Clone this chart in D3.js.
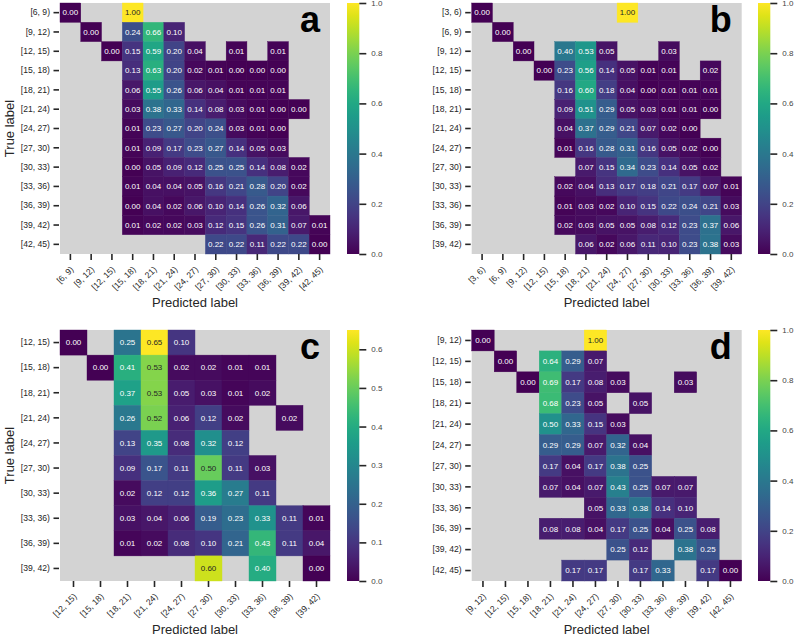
<!DOCTYPE html>
<html><head><meta charset="utf-8">
<script src="https://cdn.jsdelivr.net/npm/d3@7/dist/d3.min.js"></script>
<style>
body{margin:0;background:#fff;}
svg text{font-family:"Liberation Sans",Arial,sans-serif;}
</style></head>
<body><svg id="chart" width="796" height="636"></svg>
<script>
const _ = null;
const labelsA = ["[6, 9)","[9, 12)","[12, 15)","[15, 18)","[18, 21)","[21, 24)","[24, 27)","[27, 30)","[30, 33)","[33, 36)","[36, 39)","[39, 42)","[42, 45)"];
const matrixA = [
 [0.00,_,_,1.00,_,_,_,_,_,_,_,_,_],
 [_,0.00,_,0.24,0.66,0.10,_,_,_,_,_,_,_],
 [_,_,0.00,0.15,0.59,0.20,0.04,_,0.01,_,0.01,_,_],
 [_,_,_,0.13,0.63,0.20,0.02,0.01,0.00,0.00,0.00,_,_],
 [_,_,_,0.06,0.55,0.26,0.06,0.04,0.01,0.01,0.01,_,_],
 [_,_,_,0.03,0.38,0.33,0.14,0.08,0.03,0.01,0.00,0.00,_],
 [_,_,_,0.01,0.23,0.27,0.20,0.24,0.03,0.01,0.00,_,_],
 [_,_,_,0.01,0.09,0.17,0.23,0.27,0.14,0.05,0.03,_,_],
 [_,_,_,0.00,0.05,0.09,0.12,0.25,0.25,0.14,0.08,0.02,_],
 [_,_,_,0.01,0.04,0.04,0.05,0.16,0.21,0.28,0.20,0.02,_],
 [_,_,_,0.00,0.04,0.02,0.06,0.10,0.14,0.26,0.32,0.06,_],
 [_,_,_,0.01,0.02,0.02,0.03,0.12,0.15,0.26,0.31,0.07,0.01],
 [_,_,_,_,_,_,_,0.22,0.22,0.11,0.22,0.22,0.00]
];
const labelsB = ["[3, 6)","[6, 9)","[9, 12)","[12, 15)","[15, 18)","[18, 21)","[21, 24)","[24, 27)","[27, 30)","[30, 33)","[33, 36)","[36, 39)","[39, 42)"];
const matrixB = [
 [0.00,_,_,_,_,_,_,1.00,_,_,_,_,_],
 [_,0.00,_,_,_,_,_,_,_,_,_,_,_],
 [_,_,0.00,_,0.40,0.53,0.05,_,_,0.03,_,_,_],
 [_,_,_,0.00,0.23,0.56,0.14,0.05,0.01,0.01,_,0.02,_],
 [_,_,_,_,0.16,0.60,0.18,0.04,0.00,0.01,0.01,0.01,_],
 [_,_,_,_,0.09,0.51,0.29,0.05,0.03,0.01,0.01,0.00,_],
 [_,_,_,_,0.04,0.37,0.29,0.21,0.07,0.02,0.00,_,_],
 [_,_,_,_,0.01,0.16,0.28,0.31,0.16,0.05,0.02,0.00,_],
 [_,_,_,_,_,0.07,0.15,0.34,0.23,0.14,0.05,0.02,_],
 [_,_,_,_,0.02,0.04,0.13,0.17,0.18,0.21,0.17,0.07,0.01],
 [_,_,_,_,0.01,0.03,0.02,0.10,0.15,0.22,0.24,0.21,0.03],
 [_,_,_,_,0.02,0.03,0.05,0.05,0.08,0.12,0.23,0.37,0.06],
 [_,_,_,_,_,0.06,0.02,0.06,0.11,0.10,0.23,0.38,0.03]
];
const labelsC = ["[12, 15)","[15, 18)","[18, 21)","[21, 24)","[24, 27)","[27, 30)","[30, 33)","[33, 36)","[36, 39)","[39, 42)"];
const matrixC = [
 [0.00,_,0.25,0.65,0.10,_,_,_,_,_],
 [_,0.00,0.41,0.53,0.02,0.02,0.01,0.01,_,_],
 [_,_,0.37,0.53,0.05,0.03,0.01,0.02,_,_],
 [_,_,0.26,0.52,0.06,0.12,0.02,_,0.02,_],
 [_,_,0.13,0.35,0.08,0.32,0.12,_,_,_],
 [_,_,0.09,0.17,0.11,0.50,0.11,0.03,_,_],
 [_,_,0.02,0.12,0.12,0.36,0.27,0.11,_,_],
 [_,_,0.03,0.04,0.06,0.19,0.23,0.33,0.11,0.01],
 [_,_,0.01,0.02,0.08,0.10,0.21,0.43,0.11,0.04],
 [_,_,_,_,_,0.60,_,0.40,_,0.00]
];
const labelsD = ["[9, 12)","[12, 15)","[15, 18)","[18, 21)","[21, 24)","[24, 27)","[27, 30)","[30, 33)","[33, 36)","[36, 39)","[39, 42)","[42, 45)"];
const matrixD = [
 [0.00,_,_,_,_,1.00,_,_,_,_,_,_],
 [_,0.00,_,0.64,0.29,0.07,_,_,_,_,_,_],
 [_,_,0.00,0.69,0.17,0.08,0.03,_,_,0.03,_,_],
 [_,_,_,0.68,0.23,0.05,_,0.05,_,_,_,_],
 [_,_,_,0.50,0.33,0.15,0.03,_,_,_,_,_],
 [_,_,_,0.29,0.29,0.07,0.32,0.04,_,_,_,_],
 [_,_,_,0.17,0.04,0.17,0.38,0.25,_,_,_,_],
 [_,_,_,0.07,0.04,0.07,0.43,0.25,0.07,0.07,_,_],
 [_,_,_,_,_,0.05,0.33,0.38,0.14,0.10,_,_],
 [_,_,_,0.08,0.08,0.04,0.17,0.25,0.04,0.25,0.08,_],
 [_,_,_,_,_,_,0.25,0.12,_,0.38,0.25,_],
 [_,_,_,_,0.17,0.17,_,0.17,0.33,_,0.17,0.00]
];
const ticksFull = [0.0,0.2,0.4,0.6,0.8,1.0];
const ticksC = [0.0,0.1,0.2,0.3,0.4,0.5,0.6];

const panels = [
 {id:"a", labels:labelsA, m:matrixA, x0:60, x1:330, y0:3, y1:254, cbx:347, vmax:1.0, ticks:ticksFull, ylab:true},
 {id:"b", labels:labelsB, m:matrixB, x0:471.7, x1:741.7, y0:3, y1:254, cbx:758, vmax:1.0, ticks:ticksFull, ylab:false},
 {id:"c", labels:labelsC, m:matrixC, x0:60, x1:330, y0:330, y1:581, cbx:347, vmax:0.65, ticks:ticksC, ylab:true},
 {id:"d", labels:labelsD, m:matrixD, x0:471.7, x1:741.7, y0:330, y1:581, cbx:758, vmax:1.0, ticks:ticksFull, ylab:false}
];

const svg = d3.select("#chart");
const TXT = "#262626";
function lum(c){
  const r = d3.rgb(c);
  const f = v => { v/=255; return v<=0.03928 ? v/12.92 : Math.pow((v+0.055)/1.055,2.4); };
  return 0.2126*f(r.r)+0.7152*f(r.g)+0.0722*f(r.b);
}
const defs = svg.append("defs");

panels.forEach(p => {
  const g = svg.append("g");
  const x = d3.scaleBand().domain(p.labels).range([p.x0,p.x1]);
  const y = d3.scaleBand().domain(p.labels).range([p.y0,p.y1]);
  const color = d3.scaleSequential(d3.interpolateViridis).domain([0,p.vmax]);
  g.append("rect").attr("x",p.x0).attr("y",p.y0).attr("width",p.x1-p.x0).attr("height",p.y1-p.y0).attr("fill","#d3d3d3");
  const cells = [];
  p.m.forEach((row,i)=>row.forEach((v,j)=>{ if(v!==null) cells.push({r:p.labels[i],c:p.labels[j],v}); }));
  g.selectAll("rect.cell").data(cells).enter().append("rect").attr("class","cell")
    .attr("x",d=>x(d.c)).attr("y",d=>y(d.r)).attr("width",x.bandwidth()).attr("height",y.bandwidth())
    .attr("fill",d=>color(d.v)).attr("stroke",d=>color(d.v)).attr("stroke-width",0.4);
  g.selectAll("text.ann").data(cells).enter().append("text").attr("class","ann")
    .attr("x",d=>x(d.c)+x.bandwidth()/2).attr("y",d=>y(d.r)+y.bandwidth()/2)
    .attr("text-anchor","middle").attr("dy","0.35em").attr("font-size","8px")
    .attr("fill",d=>lum(color(d.v))>0.408?TXT:"#ffffff")
    .text(d=>d.v.toFixed(2));
  // y axis
  const ya = d3.axisLeft(y).tickSize(5.5).tickPadding(3.5);
  const gy = g.append("g").attr("transform",`translate(${p.x0-1},0)`).call(ya);
  gy.select(".domain").remove();
  gy.selectAll(".tick line").attr("stroke",TXT).attr("stroke-width",1.6);
  gy.selectAll(".tick text").attr("fill",TXT).attr("font-size","8.6px");
  // x axis
  const xa = d3.axisBottom(x).tickSize(6).tickPadding(3);
  const gx = g.append("g").attr("transform",`translate(0,${p.y1})`).call(xa);
  gx.select(".domain").remove();
  gx.selectAll(".tick line").attr("stroke",TXT).attr("stroke-width",1.6);
  gx.selectAll(".tick text").attr("fill",TXT).attr("font-size","8.6px")
    .attr("text-anchor","end").attr("dy",null).attr("y",null)
    .attr("transform","translate(3.7,16) rotate(-45)");
  // axis labels
  g.append("text").attr("x",(p.x0+p.x1)/2).attr("y",p.y1+53).attr("text-anchor","middle")
    .attr("font-size","13px").attr("fill",TXT).text("Predicted label");
  if(p.ylab){
    g.append("text").attr("transform",`translate(14,${(p.y0+p.y1)/2}) rotate(-90)`).attr("text-anchor","middle")
      .attr("font-size","13px").attr("fill",TXT).text("True label");
  }
  // panel letter
  g.append("text").attr("x",p.x1-10).attr("y",p.y0+29).attr("text-anchor","end")
    .attr("font-size","36px").attr("font-weight","bold").attr("fill","#000").text(p.id);
  // colorbar
  const gid = "grad"+p.id;
  const lg = defs.append("linearGradient").attr("id",gid).attr("x1",0).attr("y1",1).attr("x2",0).attr("y2",0);
  d3.range(0,1.0001,0.05).forEach(t=>lg.append("stop").attr("offset",t).attr("stop-color",d3.interpolateViridis(t)));
  const cw = 12.3;
  g.append("rect").attr("x",p.cbx).attr("y",p.y0).attr("width",cw).attr("height",p.y1-p.y0).attr("fill",`url(#${gid})`);
  const cy = d3.scaleLinear().domain([0,p.vmax]).range([p.y1,p.y0]);
  const ca = d3.axisRight(cy).tickValues(p.ticks).tickFormat(d3.format(".1f")).tickSize(7).tickPadding(5);
  const gc = g.append("g").attr("transform",`translate(${p.cbx+cw},0)`).call(ca);
  gc.select(".domain").remove();
  gc.selectAll(".tick line").attr("stroke",TXT).attr("stroke-width",1.6);
  gc.selectAll(".tick text").attr("fill","#444").attr("font-size","8px");
});
</script></body></html>
